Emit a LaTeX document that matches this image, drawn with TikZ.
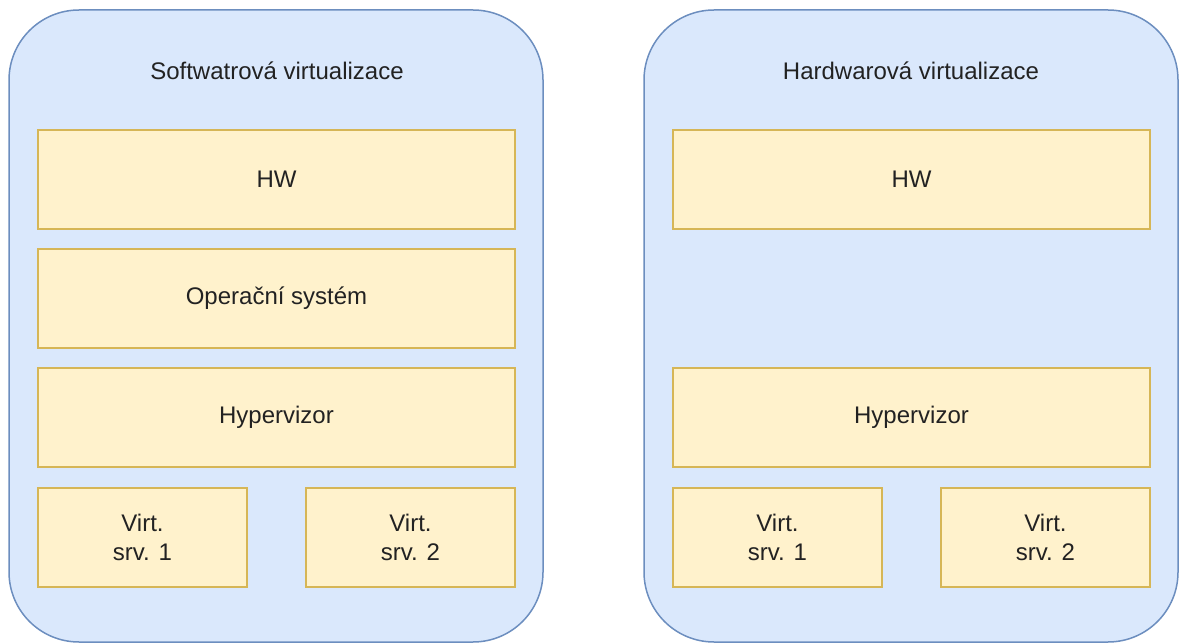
\documentclass[tikz,border=0pt]{standalone}
\usepackage{fontspec}
\setmainfont{Liberation Sans}
\definecolor{contfill}{HTML}{DAE8FC}
\definecolor{contdraw}{HTML}{6C8EBF}
\definecolor{boxfill}{HTML}{FFF2CC}
\definecolor{boxdraw}{HTML}{D6B656}
\definecolor{txt}{HTML}{222222}
\begin{document}
\begin{tikzpicture}[x=1pt,y=-1pt,
  container/.style={draw=contdraw,fill=contfill,line width=1.5pt,rounded corners=70pt,
    anchor=north west,inner sep=0pt,outer sep=0pt},
  layer/.style={draw=boxdraw,fill=boxfill,line width=1.5pt,anchor=north west,
    inner sep=0pt,outer sep=0pt,font=\fontsize{24}{29}\selectfont,text=txt,align=center},
  wide/.style={layer,minimum width=477pt,minimum height=99pt},
  small/.style={layer,minimum width=209pt,minimum height=99pt},
  title/.style={font=\fontsize{24}{29}\selectfont,text=txt,inner sep=0pt}]
\useasboundingbox (0,0) rectangle (1183,644);
% left container
\node[container,minimum width=534pt,minimum height=632pt] (lc) at (9,10) {};
\node[title] (lt) at (277,71) {Softwatrová virtualizace};
\node[wide] (lhw) at (38,130) {HW};
\node[wide] (los) at (38,249) {Operační systém};
\node[wide] (lhyp) at (38,368) {Hypervizor};
\node[small] (lv1) at (38,488) {Virt.\\srv. 1};
\node[small] (lv2) at (306,488) {Virt.\\srv. 2};
% right container
\node[container,minimum width=534pt,minimum height=632pt] (rc) at (644,10) {};
\node[title] (rt) at (911,71) {Hardwarová virtualizace};
\node[wide] (rhw) at (673,130) {HW};
\node[wide] (rhyp) at (673,368) {Hypervizor};
\node[small] (rv1) at (673,488) {Virt.\\srv. 1};
\node[small] (rv2) at (941,488) {Virt.\\srv. 2};
\end{tikzpicture}
\end{document}
